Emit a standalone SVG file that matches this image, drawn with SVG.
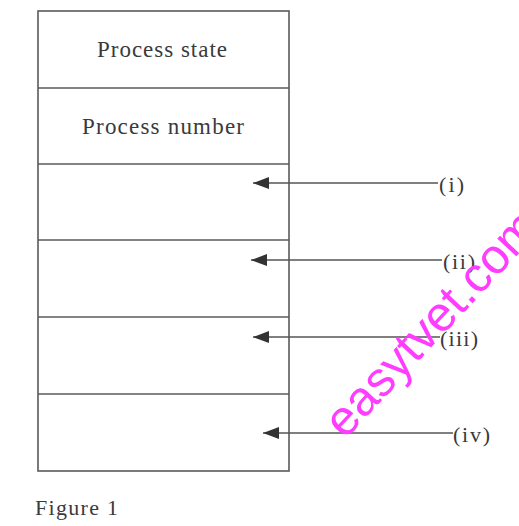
<svg xmlns="http://www.w3.org/2000/svg" width="519" height="526" viewBox="0 0 519 526">
<style>
.box{fill:none;stroke:#5a5a5a;stroke-width:1.6}
.div{stroke:#5a5a5a;stroke-width:1.6}
.lbl{font-family:"Liberation Serif",serif;font-size:23px;fill:#3a3a3a}
.sm{font-family:"Liberation Serif",serif;font-size:22px;fill:#3a3a3a}
.conn{stroke:#555;stroke-width:1.6;fill:none;marker-end:url(#ah)}
.wm{font-family:"Liberation Sans",Arial,sans-serif;font-size:49px;fill:#ff3cff}
</style>
<defs>
<marker id="ah" markerUnits="userSpaceOnUse" markerWidth="18" markerHeight="12" refX="16" refY="6" orient="auto">
<path d="M0,0 L16,6 L0,12 z" fill="#333"/>
</marker>
</defs>
<rect width="519" height="526" fill="#ffffff"/>
<g id="pcb">
<rect class="box" x="38" y="11" width="251" height="460"/>
<line class="div" x1="38" y1="88" x2="289" y2="88"/>
<line class="div" x1="38" y1="164" x2="289" y2="164"/>
<line class="div" x1="38" y1="240" x2="289" y2="240"/>
<line class="div" x1="38" y1="317" x2="289" y2="317"/>
<line class="div" x1="38" y1="394" x2="289" y2="394"/>
</g>
<g id="field-state"><text class="lbl" x="162" y="57" text-anchor="middle" textLength="130">Process state</text></g>
<g id="field-number"><text class="lbl" x="163" y="134" text-anchor="middle" textLength="162">Process number</text></g>
<g id="connectors">
<line class="conn" x1="438" y1="183" x2="253" y2="183"/>
<line class="conn" x1="442" y1="260" x2="251" y2="260"/>
<line class="conn" x1="440" y1="337" x2="253" y2="337"/>
<line class="conn" x1="453" y1="433" x2="263" y2="433"/>
</g>
<g id="label-i"><text class="sm" x="439" y="192" textLength="25">(i)</text></g>
<g id="label-ii"><text class="sm" x="443" y="269" textLength="32">(ii)</text></g>
<g id="label-iii"><text class="sm" x="440" y="346" textLength="38">(iii)</text></g>
<g id="label-iv"><text class="sm" x="453" y="442" textLength="37">(iv)</text></g>
<text class="sm" x="35" y="515" textLength="83">Figure 1</text>
<text class="wm" x="0" y="0" transform="translate(345,440) rotate(-47)">easytvet.com</text>
</svg>
